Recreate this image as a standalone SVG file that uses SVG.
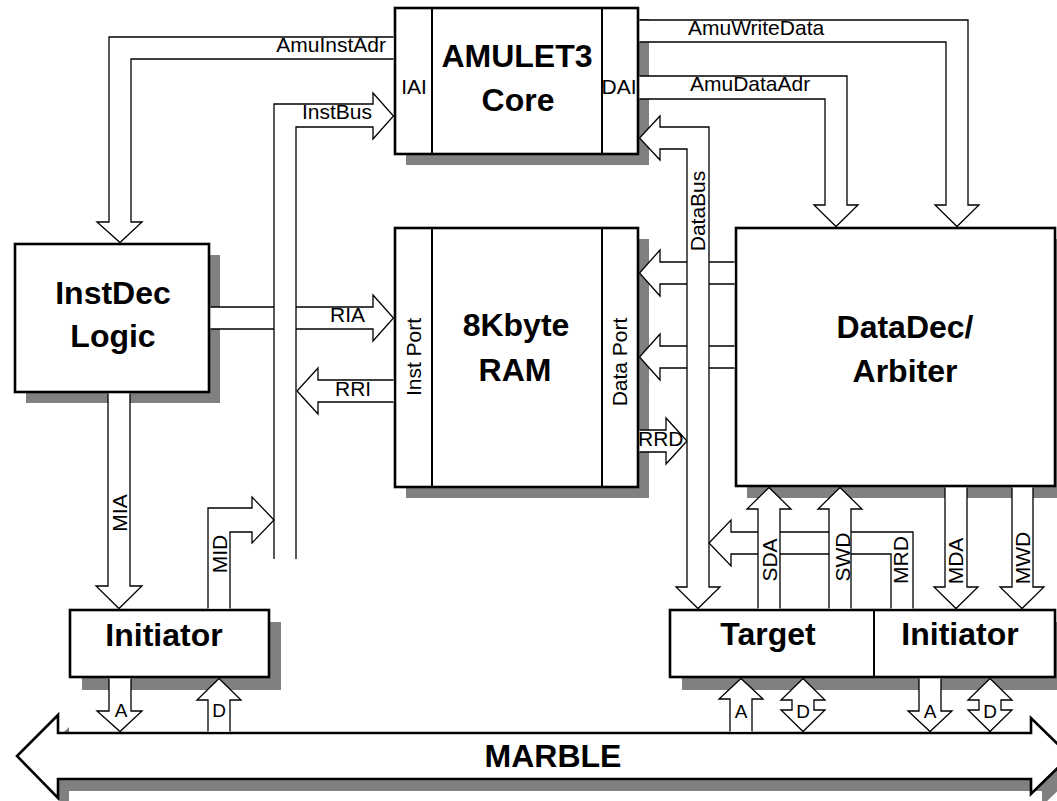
<svg xmlns="http://www.w3.org/2000/svg" width="1057" height="801" viewBox="0 0 1057 801">
<style>
.sh{fill:#808080;stroke:none}
.box{fill:#fff;stroke:#000;stroke-width:2.6}
.div{fill:none;stroke:#000;stroke-width:2}
.bus{fill:#fff;stroke:#000;stroke-width:1.3;stroke-linejoin:miter}
.t{font-family:"Liberation Sans",Arial,sans-serif;font-size:21px;fill:#000}
.s{font-family:"Liberation Sans",Arial,sans-serif;font-size:19px;fill:#000;text-anchor:middle}
.b{font-family:"Liberation Sans",Arial,sans-serif;font-size:32px;font-weight:bold;fill:#000;text-anchor:middle}
.m{text-anchor:middle}
</style>
<rect width="1057" height="801" fill="#fff"/>

<g id="core">
<rect class="sh" x="406" y="19" width="243" height="146"/>
<rect class="box" x="395" y="8" width="243" height="146"/>
<line class="div" x1="432" y1="8" x2="432" y2="154"/>
<line class="div" x1="602" y1="8" x2="602" y2="154"/>
<text class="t m" x="414" y="94">IAI</text>
<text class="t m" x="619" y="94">DAI</text>
<text class="b" x="517" y="67">AMULET3</text>
<text class="b" x="518" y="111">Core</text>
</g>

<g id="ram">
<rect class="sh" x="406" y="239" width="243" height="259"/>
<rect class="box" x="395" y="228" width="243" height="259"/>
<line class="div" x1="432" y1="228" x2="432" y2="487"/>
<line class="div" x1="602" y1="228" x2="602" y2="487"/>
<text class="t m" transform="translate(421,357) rotate(-90)">Inst Port</text>
<text class="t m" transform="translate(627,362) rotate(-90)">Data Port</text>
<text class="b" x="516" y="336">8Kbyte</text>
<text class="b" x="515" y="381">RAM</text>
</g>

<g id="instdec">
<rect class="sh" x="26" y="255" width="194" height="148"/>
<rect class="box" x="15" y="244" width="194" height="148"/>
<text class="b" x="113" y="304">InstDec</text>
<text class="b" x="113" y="347">Logic</text>
</g>

<g id="datadec">
<rect class="sh" x="747" y="239" width="319" height="259"/>
<rect class="box" x="736" y="228" width="319" height="258"/>
<text class="b" x="905" y="338">DataDec/</text>
<text class="b" x="905" y="382">Arbiter</text>
</g>

<g id="initiator-left">
<rect class="sh" x="82" y="622" width="199" height="68"/>
<rect class="box" x="70" y="610" width="199" height="67"/>
<text class="b" x="164" y="646">Initiator</text>
</g>

<g id="target-initiator">
<rect class="sh" x="682" y="622" width="385" height="68"/>
<rect class="box" x="670" y="610" width="385" height="67"/>
<line class="div" x1="874" y1="610" x2="874" y2="677"/>
<text class="b" x="768" y="645">Target</text>
<text class="b" x="960" y="645">Initiator</text>
</g>

<g id="marble">
<path class="sh" d="M69,745 H1042 V730 L1081,768 L1042,806 V791 H69 V810 L28,768 L69,727 Z"/>
<path class="box" d="M58,733 H1031 V718 L1070,756 L1031,794 V779 H58 V798 L17,756 L58,715 Z"/>
<text class="b" x="553" y="767">MARBLE</text>
</g>

<g id="connectors">
<path class="bus" d="M393.5,37 H109 V222 H97 L120,242.5 L142,222 H131 V59 H393.5"/>
<path class="bus" d="M210.5,307 H373 V295 L393.5,318 L373,341 V329 H210.5"/>
<path class="bus" d="M274,559 V104 H373 V93 L393.5,116 L373,139 V127 H296 V559"/>
<path class="bus" d="M393.5,380 H318 V368 L297,391 L318,414 V402 H393.5"/>
<path class="bus" d="M108,393.5 V586 H96 L119,608.5 L142,586 H130 V393.5"/>
<path class="bus" d="M208,608.5 V508 H252 V497 L274,520 L252,543 V532 H230 V608.5"/>
<path class="bus" d="M109,678.5 V711 H97 L120,731.5 L142,711 H131 V678.5"/>
<path class="bus" d="M208,731.5 V700 H197 L219,678.5 L241,700 H230 V731.5"/>
<path class="bus" d="M639.5,20 H968 V205 H979 L957,226.5 L935,205 H946 V42 H639.5"/>
<path class="bus" d="M639.5,76 H847 V205 H858 L836,226.5 L814,205 H825 V99 H639.5"/>
<path class="bus" d="M734.5,262 H660 V250 L639.5,273 L660,296 V284 H734.5"/>
<path class="bus" d="M734.5,346 H660 V334 L639.5,357 L660,380 V368 H734.5"/>
<path class="bus" d="M639.5,430 H666 V418 L687,441 L666,464 V452 H639.5"/>
<path class="bus" d="M660,127 H709 V587 H720 L698,608.5 L676,587 H687 V149 H660 V160 L639.5,138 L660,116 Z"/>
<path class="bus" d="M913,608.5 V532 H731 V520 L709,543 L731,566 V554 H891 V608.5"/>
<path class="bus" d="M758,608.5 V509 H747 L769,487.5 L791,509 H780 V608.5"/>
<path class="bus" d="M829,608.5 V509 H818 L840,487.5 L862,509 H851 V608.5"/>
<path class="bus" d="M945,487.5 V587 H934 L956,608.5 L978,587 H967 V487.5"/>
<path class="bus" d="M1012,487.5 V587 H1000 L1022,608.5 L1044,587 H1033 V487.5"/>
<path class="bus" d="M730,731.5 V699 H719 L741,678.5 L763,699 H752 V731.5"/>
<path class="bus" d="M792,700 H781 L803,678.5 L825,700 H814 V710 H825 L803,731.5 L781,710 H792 Z"/>
<path class="bus" d="M919,678.5 V711 H908 L930,731.5 L952,711 H941 V678.5"/>
<path class="bus" d="M979,700 H968 L990,678.5 L1012,700 H1001 V710 H1012 L990,731.5 L968,710 H979 Z"/>
<text class="t" x="386" y="52" text-anchor="end">AmuInstAdr</text>
<text class="t" x="302" y="119">InstBus</text>
<text class="t" x="688" y="35">AmuWriteData</text>
<text class="t" x="690" y="91">AmuDataAdr</text>
<text class="t" x="330" y="322">RIA</text>
<text class="t" x="335" y="396">RRI</text>
<text class="t" x="638" y="446">RRD</text>
<text class="t m" transform="translate(705,211) rotate(-90)">DataBus</text>
<text class="t m" transform="translate(127,513) rotate(-90)">MIA</text>
<text class="t m" transform="translate(227,554) rotate(-90)">MID</text>
<text class="t m" transform="translate(777,560) rotate(-90)">SDA</text>
<text class="t m" transform="translate(850,557) rotate(-90)">SWD</text>
<text class="t m" transform="translate(908,560) rotate(-90)">MRD</text>
<text class="t m" transform="translate(963,561) rotate(-90)">MDA</text>
<text class="t m" transform="translate(1030,558) rotate(-90)">MWD</text>
<text class="s" x="121" y="717">A</text>
<text class="s" x="219" y="717">D</text>
<text class="s" x="741" y="718">A</text>
<text class="s" x="803" y="718">D</text>
<text class="s" x="930" y="718">A</text>
<text class="s" x="990" y="718">D</text>
</g>
</svg>
